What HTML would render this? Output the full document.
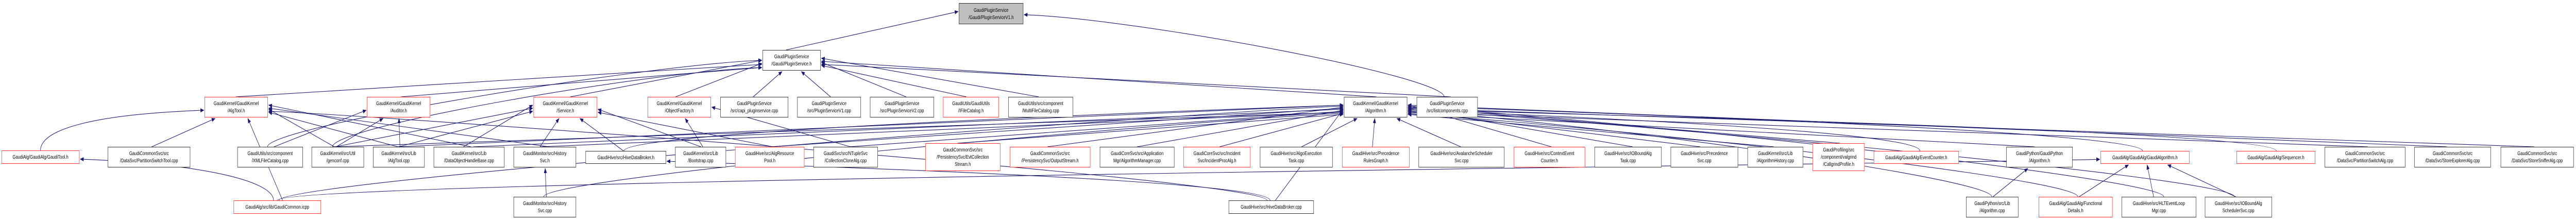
<!DOCTYPE html>
<html><head><meta charset="utf-8">
<style>
html,body{margin:0;padding:0;background:#fff;overflow:hidden;}
#c{position:absolute;left:0;top:0;width:6837px;height:429px;overflow:hidden;background:#fff;transform-origin:0 0;}
svg{position:absolute;left:0;top:0;}
.n{position:absolute;box-sizing:border-box;border:1.5px solid #333;background:#fff;display:flex;align-items:center;justify-content:center;text-align:center;font-family:"Liberation Sans",sans-serif;font-size:10.5px;line-height:14px;color:#000;white-space:nowrap;overflow:hidden;}
.r{border-color:#ff3030;}
.g{background:#bfbfbf;}
</style></head><body>
<div id="c">
<svg id="s" width="6837" height="429" viewBox="0 0 6837 429">
<defs><marker id="a" markerWidth="10" markerHeight="8" refX="9" refY="4" orient="auto" markerUnits="userSpaceOnUse"><path d="M0,0 L10,4 L0,8 z" fill="#191970"/></marker></defs>
<g id="e" fill="none" stroke="#191970" stroke-width="1.1"></g>
</svg>
<div id="nodes"></div>
</div>
<script>
var N={
psv1h:[2545,6,2716,47,"GaudiPluginService<br>/Gaudi/PluginServiceV1.h","g"],
psh:[2024,97,2178,137,"GaudiPluginService<br>/Gaudi/PluginService.h",""],
algtoolh:[543,188,711,228,"GaudiKernel/GaudiKernel<br>/AlgTool.h","r"],
auditor:[974,188,1142,228,"GaudiKernel/GaudiKernel<br>/Auditor.h","r"],
service:[1416,188,1585,228,"GaudiKernel/GaudiKernel<br>/Service.h","r"],
objfac:[1719,188,1887,228,"GaudiKernel/GaudiKernel<br>/ObjectFactory.h","r"],
capi:[1912,188,2092,228,"GaudiPluginService<br>/src/capi_pluginservice.cpp",""],
psv1cpp:[2116,188,2285,228,"GaudiPluginService<br>/src/PluginServiceV1.cpp",""],
psv2cpp:[2309,188,2479,228,"GaudiPluginService<br>/src/PluginServiceV2.cpp",""],
ifile:[2503,188,2651,228,"GaudiUtils/GaudiUtils<br>/IFileCatalog.h","r"],
multi:[2676,188,2848,228,"GaudiUtils/src/component<br>/MultiFileCatalog.cpp",""],
algh:[3567,188,3735,228,"GaudiKernel/GaudiKernel<br>/Algorithm.h",""],
listc:[3760,188,3922,228,"GaudiPluginService<br>/src/listcomponents.cpp",""],
gtool:[4,292,211,318,"GaudiAlg/GaudiAlg/GaudiTool.h","r"],
pst:[286,285,505,325,"GaudiCommonSvc/src<br>/DataSvc/PartitionSwitchTool.cpp",""],
xml:[630,285,804,325,"GaudiUtils/src/component<br>/XMLFileCatalog.cpp",""],
genconf:[827,285,966,325,"GaudiKernel/src/Util<br>/genconf.cpp",""],
algtoolcpp:[990,285,1127,325,"GaudiKernel/src/Lib<br>/AlgTool.cpp",""],
dohb:[1151,285,1339,325,"GaudiKernel/src/Lib<br>/DataObjectHandleBase.cpp",""],
histh:[1363,285,1529,325,"GaudiMonitor/src/History<br>Svc.h",""],
hdbh:[1554,293,1768,318,"GaudiHive/src/HiveDataBroker.h",""],
boot:[1792,285,1927,325,"GaudiKernel/src/Lib<br>/Bootstrap.cpp",""],
arp:[1951,285,2135,325,"GaudiHive/src/AlgResource<br>Pool.h","r"],
cca:[2159,285,2330,325,"GaudiSvc/src/NTupleSvc<br>/CollectionCloneAlg.cpp",""],
ecs:[2456,278,2655,332,"GaudiCommonSvc/src<br>/PersistencySvc/EvtCollection<br>Stream.h","r"],
outs:[2680,285,2894,325,"GaudiCommonSvc/src<br>/PersistencySvc/OutputStream.h","r"],
amgr:[2919,285,3117,325,"GaudiCoreSvc/src/Application<br>Mgr/AlgorithmManager.cpp",""],
ipa:[3141,285,3319,325,"GaudiCoreSvc/src/Incident<br>Svc/IncidentProcAlg.h","r"],
aet:[3344,285,3537,325,"GaudiHive/src/AlgoExecution<br>Task.cpp",""],
prg:[3562,285,3741,325,"GaudiHive/src/Precedence<br>RulesGraph.h","r"],
ava:[3765,285,3993,325,"GaudiHive/src/AvalancheScheduler<br>Svc.cpp",""],
cec:[4018,285,4207,325,"GaudiHive/src/ContextEvent<br>Counter.h","r"],
iobt:[4232,285,4410,325,"GaudiHive/src/IOBoundAlg<br>Task.cpp",""],
prec:[4434,285,4613,325,"GaudiHive/src/Precedence<br>Svc.cpp",""],
ahist:[4638,285,4786,325,"GaudiKernel/src/Lib<br>/AlgorithmHistory.cpp",""],
cgp:[4811,278,4949,332,"GaudiProfiling/src<br>/component/valgrind<br>/CallgrindProfile.h","r"],
evc:[4973,293,5199,318,"GaudiAlg/GaudiAlg/EventCounter.h","r"],
gpalgh:[5325,285,5501,325,"GaudiPython/GaudiPython<br>/Algorithm.h",""],
galg:[5575,293,5811,318,"GaudiAlg/GaudiAlg/GaudiAlgorithm.h","r"],
seq:[5936,293,6145,318,"GaudiAlg/GaudiAlg/Sequencer.h","r"],
psa:[6170,285,6384,325,"GaudiCommonSvc/src<br>/DataSvc/PartitionSwitchAlg.cpp",""],
sea:[6408,285,6611,325,"GaudiCommonSvc/src<br>/DataSvc/StoreExplorerAlg.cpp",""],
ssa:[6637,285,6831,325,"GaudiCommonSvc/src<br>/DataSvc/StoreSnifferAlg.cpp",""],
histcpp:[1363,382,1529,422,"GaudiMonitor/src/History<br>Svc.cpp",""],
gcom:[620,389,852,415,"GaudiAlg/src/lib/GaudiCommon.icpp","r"],
hdbcpp:[3261,389,3487,415,"GaudiHive/src/HiveDataBroker.cpp",""],
gpalgcpp:[5218,382,5357,422,"GaudiPython/src/Lib<br>/Algorithm.cpp",""],
fdet:[5411,382,5607,422,"GaudiAlg/GaudiAlg/Functional<br>Details.h","r"],
hlt:[5631,382,5829,422,"GaudiHive/src/HLTEventLoop<br>Mgr.cpp",""],
iobs:[5852,382,6030,422,"GaudiHive/src/IOBoundAlg<br>SchedulerSvc.cpp",""]
};
var h="";
for(var k in N){var n=N[k];h+='<div class="n '+n[5]+'" style="left:'+n[0]+'px;top:'+n[1]+'px;width:'+(n[2]-n[0])+'px;height:'+(n[3]-n[1])+'px">'+n[4]+'</div>';}
document.getElementById("nodes").innerHTML=h;
var E=[
["psh","psv1h"],["listc","psv1h"],
["algtoolh","psh"],["auditor","psh"],["service","psh"],["objfac","psh"],["capi","psh"],["psv1cpp","psh"],["psv2cpp","psh"],["ifile","psh"],["multi","psh"],["algh","psh"],["listc","psh"],["genconf","psh"],["xml","psh"],
["gtool","algtoolh"],["pst","algtoolh"],["gcom","algtoolh"],["genconf","algtoolh"],["algtoolcpp","algtoolh"],["dohb","algtoolh"],["histh","algtoolh"],["hdbcpp","algtoolh"],
["genconf","auditor"],["algtoolcpp","auditor"],["xml","auditor"],
["histh","service"],["hdbh","service"],["boot","service"],["arp","service"],["dohb","service"],["genconf","service"],["algtoolcpp","service"],
["boot","objfac"],["cca","objfac"],["gcom","gtool"],["hdbcpp","hdbh"],["histcpp","histh"],
["dohb","algh"],["histh","algh"],["hdbh","algh"],["arp","algh"],["cca","algh"],["ecs","algh"],["outs","algh"],["amgr","algh"],["ipa","algh"],["aet","algh"],["prg","algh"],["ava","algh"],["cec","algh"],["iobt","algh"],["prec","algh"],["ahist","algh"],["cgp","algh"],["evc","algh"],["gpalgh","algh"],["galg","algh"],["seq","algh"],["psa","algh"],["sea","algh"],["ssa","algh"],["gpalgcpp","algh"],["fdet","algh"],["hlt","algh"],["iobs","algh"],["histcpp","algh"],["gcom","algh"],["hdbcpp","algh"],["genconf","algh"],["algtoolcpp","algh"],
["gpalgcpp","gpalgh"],["fdet","galg"],["hlt","galg"],["iobs","galg"],["gcom","galg"]
];
var p="";
for(var i=0;i<E.length;i++){
 var s=N[E[i][0]],t=N[E[i][1]];
 var sx=(s[0]+s[2])/2+((i*7)%30-15), sy=s[1];
 var tcx=(t[0]+t[2])/2, tx,ty;
 var dx=sx-tcx;
 if(Math.abs(dx)<(t[2]-t[0])*1.5){tx=tcx+dx*0.25;ty=t[3]+2;}
 else if(dx<0){tx=t[0]-2;ty=t[1]+(t[3]-t[1])*(0.4+((i*13)%10)/20);}
 else{tx=t[2]+2;ty=t[1]+(t[3]-t[1])*(0.4+((i*13)%10)/20);}
 if(s[1]>t[3]+60 && Math.abs(dx)>300){
  p+='<path d="M'+sx+','+sy+' C'+sx+','+(sy-40)+' '+(tx+(dx>0?300:-300))+','+(ty+8)+' '+tx+','+ty+'" marker-end="url(#a)"/>';
 }else{
  p+='<path d="M'+sx+','+sy+' L'+tx+','+ty+'" marker-end="url(#a)"/>';
 }
}
document.getElementById("e").innerHTML=p;
(function(){
 var w=window.innerWidth||document.documentElement.clientWidth||6837;
 var hh=window.innerHeight||document.documentElement.clientHeight||429;
 var sx=w/6837, sy=hh/429;
 if(Math.abs(sx-1)>0.01||Math.abs(sy-1)>0.01){
  document.getElementById("c").style.transform="scale("+sx+","+sy+")";
 }
})();
</script>
</body></html>
